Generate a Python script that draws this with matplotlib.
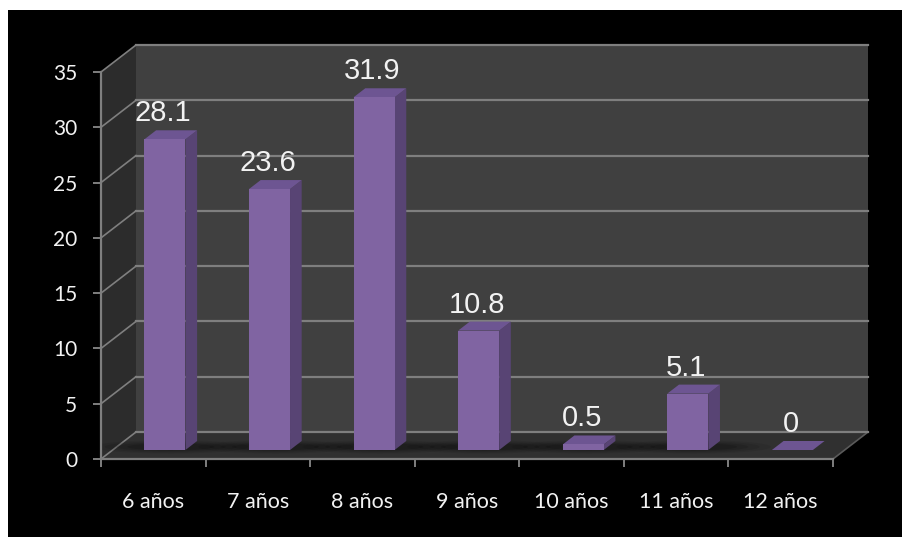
import matplotlib
matplotlib.use("Agg")
import matplotlib.pyplot as plt
from matplotlib.patches import Polygon, Rectangle, Ellipse
from matplotlib.lines import Line2D

# Percentage of children by age
categories = ["6 años", "7 años", "8 años", "9 años", "10 años", "11 años", "12 años"]
values = [28.1, 23.6, 31.9, 10.8, 0.5, 5.1, 0]
y_ticks = [0, 5, 10, 15, 20, 25, 30, 35]

W, H, DPI = 902, 537, 100
fig = plt.figure(figsize=(W / DPI, H / DPI), dpi=DPI, facecolor="white")

# black slide background
fig.patches.append(Rectangle((8 / W, 0), 1 - 8 / W, 527 / H, transform=fig.transFigure,
                             facecolor="black", edgecolor="none", zorder=-5))

# front plane of the 3-D box
ax_l, ax_r, ax_t, ax_b = 101, 833, 72, 459
ax = fig.add_axes([ax_l / W, 1 - ax_b / H, (ax_r - ax_l) / W, (ax_b - ax_t) / H])
ax.set_zorder(1)
ax.set_facecolor("black")
n = len(categories)
ymax = 35
ax.set_xlim(0, n)
ax.set_ylim(0, ymax)

# depth of the box expressed in data units
px_x = (ax_r - ax_l) / n
px_y = (ax_b - ax_t) / ymax
DX = 35 / px_x
DY = 27 / px_y

wall_back = "#404040"
wall_side = "#2c2c2c"
floor_col = "#303030"
grid_col = "#7f7f7f"

ax.add_patch(Polygon([(DX, DY), (n + DX, DY), (n + DX, ymax + DY), (DX, ymax + DY)],
                     closed=True, facecolor=wall_back, edgecolor="none", zorder=0.5, clip_on=False))
ax.add_patch(Polygon([(0, 0), (0, ymax), (DX, ymax + DY), (DX, DY)],
                     closed=True, facecolor=wall_side, edgecolor="none", zorder=0.5, clip_on=False))
ax.add_patch(Polygon([(0, 0), (n, 0), (n + DX, DY), (DX, DY)],
                     closed=True, facecolor=floor_col, edgecolor="none", zorder=0.55, clip_on=False))
ax.add_line(Line2D([n, n + DX], [0, DY], color="#5a5a5a", lw=1.2, zorder=0.6, clip_on=False))

for v in y_ticks:
    ax.add_line(Line2D([DX, n + DX], [v + DY, v + DY], color=grid_col, lw=1.6,
                       zorder=0.6, clip_on=False))
    ax.add_line(Line2D([0, DX], [v, v + DY], color=grid_col, lw=1.2,
                       zorder=0.6, clip_on=False))

# bars sit in the middle third of the depth
bw = 41 / px_x
bdx, bdy = DX / 3, DY / 3
front_c = "#8064a2"
side_c = "#584474"
top_c = "#6d5592"

for i, v in enumerate(values):
    x0 = i + 0.5 - bw / 2 + bdx
    y0 = bdy
    # soft floor shadow around the base
    if v > 0:
        for k, a in enumerate([0.07, 0.09, 0.11, 0.14]):
            w = (bw + 2 * bdx) * (2.4 - 0.35 * k)
            h = bdy * (1.5 - 0.25 * k)
            ax.add_patch(Ellipse((x0 + bw / 2 + bdx / 2, y0 + bdy * 0.35), w, h,
                                 facecolor="black", edgecolor="none", alpha=a,
                                 zorder=0.7, clip_on=False))
    ax.add_patch(Polygon([(x0 + bw, y0), (x0 + bw + bdx, y0 + bdy),
                          (x0 + bw + bdx, y0 + v + bdy), (x0 + bw, y0 + v)],
                         closed=True, facecolor=side_c, edgecolor="none", zorder=2, clip_on=False))
    ax.add_patch(Polygon([(x0, y0 + v), (x0 + bw, y0 + v),
                          (x0 + bw + bdx, y0 + v + bdy), (x0 + bdx, y0 + v + bdy)],
                         closed=True, facecolor=top_c, edgecolor="none", zorder=2.1, clip_on=False))
    if v > 0:
        ax.add_patch(Rectangle((x0, y0), bw, v, facecolor=front_c, edgecolor="none",
                               zorder=2.2, clip_on=False))
    ax.annotate(f"{v:g}", xy=(i + 0.5, y0 + v), xytext=(10 * 72 / DPI, 18 * 72 / DPI),
                textcoords="offset points", ha="center", va="baseline",
                fontsize=21, color="#f2f2f2", family=["Liberation Sans", "DejaVu Sans"],
                zorder=3, annotation_clip=False)

# axes: front left and bottom edges
for side in ["top", "right"]:
    ax.spines[side].set_visible(False)
for side in ["left", "bottom"]:
    ax.spines[side].set_color(grid_col)
    ax.spines[side].set_linewidth(1.6)
    ax.spines[side].set_zorder(2.5)

ax.set_yticks(y_ticks)
ax.set_yticklabels([str(t) for t in y_ticks])
ax.set_xticks(range(n + 1))
ax.set_xticklabels([])
ax.set_xticks([i + 0.5 for i in range(n)], minor=True)
ax.set_xticklabels(categories, minor=True)
ax.tick_params(axis="y", length=6, width=1.4, color=grid_col, pad=11,
               labelsize=15, labelcolor="#f2f2f2")
ax.tick_params(axis="x", which="major", length=6, width=1.4, color=grid_col)
ax.tick_params(axis="x", which="minor", length=0, pad=24,
               labelsize=15.5, labelcolor="#f2f2f2")
for lab in ax.get_yticklabels() + ax.get_xticklabels(minor=True):
    lab.set_family(["Lato", "DejaVu Sans"])

fig.savefig("out.png", dpi=DPI, facecolor=fig.get_facecolor())
